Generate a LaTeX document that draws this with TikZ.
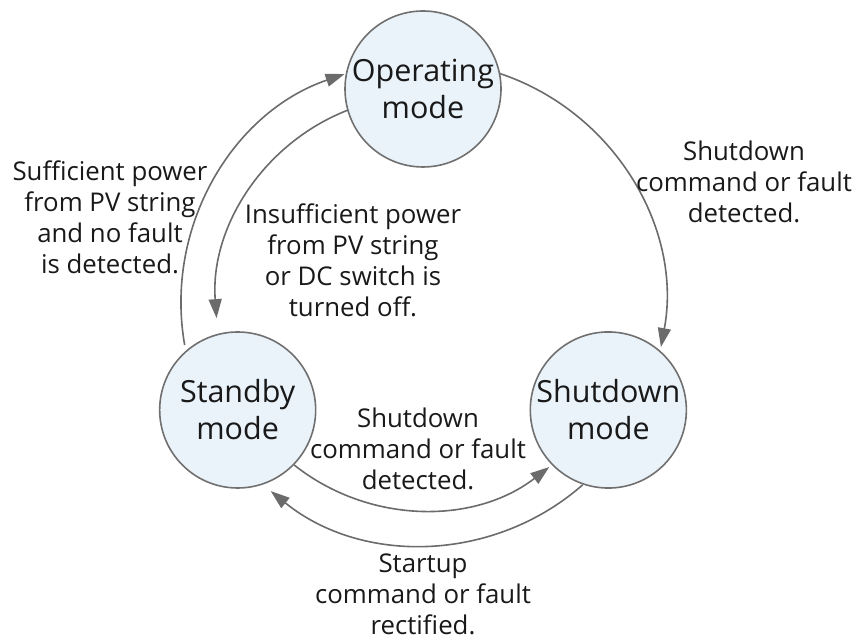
\documentclass[tikz,border=0pt]{standalone}
\usepackage{fontspec}
\setmainfont{Open Sans}
\usepackage{tikz}
\usetikzlibrary{arrows.meta, calc, positioning}
\definecolor{modeFill}{HTML}{EBF3FA}
\definecolor{modeLine}{HTML}{707070}
\definecolor{flowGray}{HTML}{6B6B6B}
\definecolor{textBlack}{gray}{0.1}

\begin{document}
\begin{tikzpicture}[x=1pt, y=1pt, >={Triangle[length=19pt, width=13pt]},
    mode/.style={circle, draw=modeLine, line width=1.6pt, fill=modeFill,
        minimum size=156pt, inner sep=0pt, align=center, text=textBlack,
        font=\fontsize{30.5}{37}\selectfont},
    flow/.style={->, line width=1.6pt, draw=flowGray},
    cond/.style={align=center, text=textBlack, font=\fontsize{25.8}{31}\selectfont}]
    \useasboundingbox (0,0) rectangle (859,642);
    \coordinate (ring) at (423,339);

    % the three modes
    \node[mode] (op) at ($(ring)+(90:214pt)$) {Operating\\mode};
    \node[mode] (sb) at ($(ring)+(210:214pt)$) {Standby\\mode};
    \node[mode] (sd) at ($(ring)+(330:214pt)$) {Shutdown\\mode};

    % transitions
    \draw[flow] ($(ring)+(71.6:242pt)$) arc[start angle=71.6, end angle=-10.5, radius=242pt];
    \draw[flow] ($(ring)+(190:242pt)$) arc[start angle=190, end angle=108.9, radius=242pt];
    \draw[flow] ($(ring)+(111.3:207pt)$) arc[start angle=111.3, end angle=184.2, radius=207pt];
    \draw[flow] ($(ring)+(231.5:207pt)$) arc[start angle=231.5, end angle=307.6, radius=207pt];
    \draw[flow] ($(ring)+(311.3:242pt)$) arc[start angle=311.3, end angle=231, radius=242pt];

    % conditions
    \node[cond] (opToSd) at (744,460) {Shutdown\\command or fault\\detected.};
    \node[cond] (sbToOp) at (110,425) {Sufficient power\\from PV string\\and no fault\\is detected.};
    \node[cond] (opToSb) at (353,382) {Insufficient power\\from PV string\\or DC switch is\\turned off.};
    \node[cond] (sbToSd) at (418,193) {Shutdown\\command or fault\\detected.};
    \node[cond] (sdToSb) at (423,48) {Startup\\command or fault\\rectified.};
\end{tikzpicture}
\end{document}
